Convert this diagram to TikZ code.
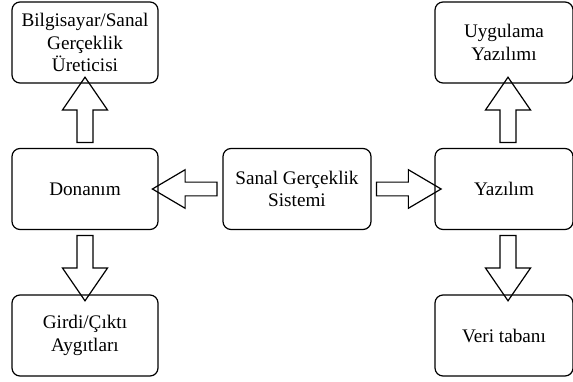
\documentclass[tikz,border=0pt]{standalone}
\usepackage{fontspec}
\setmainfont{Liberation Serif}
\usetikzlibrary{shapes.arrows}

\tikzset{
  box/.style={draw, line width=0.9pt, rounded corners=6pt, align=center,
    minimum width=109.5pt, minimum height=60.75pt, inner sep=2pt,
    font=\fontsize{14.4}{16.8}\selectfont},
  vblock/.style={draw, single arrow, line width=0.9pt, inner xsep=0pt,
    inner ysep=5.6pt, minimum width=0pt, minimum height=49pt,
    single arrow head extend=10.9pt, single arrow tip angle=69,
    sloped, allow upside down},
  hblock/.style={draw, single arrow, line width=0.9pt, inner xsep=0pt,
    inner ysep=4.7pt, minimum width=0pt, minimum height=48.4pt,
    single arrow head extend=9.3pt, single arrow tip angle=61,
    sloped, allow upside down}
}

\begin{document}
\begin{tikzpicture}[x=0.75pt, y=-0.75pt]
  \useasboundingbox (0,0) rectangle (573,381);

  % left column
  \node[box] (bil) at (85, 42.5) {Bilgisayar/Sanal\\Gerçeklik\\Üreticisi};
  \node[box] (don) at (85, 189) {Donanım};
  \node[box] (gir) at (85, 335.5) {Girdi/Çıktı\\Aygıtları};

  % middle
  \node[box, minimum width=111pt] (sgs) at (297, 189) {Sanal Gerçeklik\\Sistemi};

  % right column
  \node[box, minimum width=103.5pt] (uyg) at (504, 42.5) {Uygulama\\Yazılımı};
  \node[box, minimum width=103.5pt] (yaz) at (504, 189) {Yazılım};
  \node[box, minimum width=103.5pt] (ver) at (504, 335.5) {Veri tabanı};

  % block arrows
  \path (sgs.west) -- (don.east) node[midway, hblock] {};
  \path (sgs.east) -- (yaz.west) node[midway, hblock] {};
  \path (don.north) -- (bil.south) node[midway, vblock] {};
  \path (don.south) -- (gir.north) node[midway, vblock] {};
  \path ([xshift=3pt]yaz.north) -- ([xshift=3pt]uyg.south) node[midway, vblock] {};
  \path ([xshift=3pt]yaz.south) -- ([xshift=3pt]ver.north) node[midway, vblock] {};
\end{tikzpicture}
\end{document}
